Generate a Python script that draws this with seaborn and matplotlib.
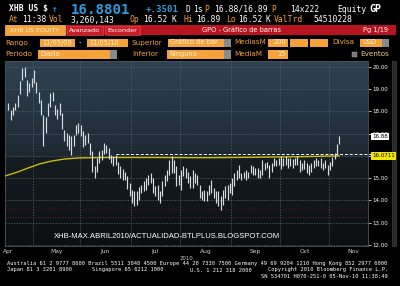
import numpy as np
import pandas as pd
import matplotlib
matplotlib.use("Agg")
import matplotlib.pyplot as plt
import seaborn as sns
from matplotlib.colors import LinearSegmentedColormap
from matplotlib.patches import Rectangle
from matplotlib.transforms import blended_transform_factory

sns.set_theme(style="dark")
plt.rcParams['font.family'] = ['DejaVu Sans']

# ---------------- data ----------------
start_date = "2010-04-16"
end_date = "2010-11-05"
holidays = ["2010-05-31", "2010-07-05", "2010-09-06"]

highs = [18.37, 18.07, 18.22, 18.37, 18.74, 19.35, 19.94, 20.00, 19.42, 19.28,
         19.50, 19.87, 19.34, 18.89, 18.52, 17.85, 17.77, 18.40, 18.82, 18.89,
         18.30, 18.10, 18.37, 17.92, 17.17, 17.03, 16.95, 16.88, 16.95, 17.40,
         17.47, 17.40, 17.10, 16.95, 17.03, 16.58, 16.20, 15.53, 15.90, 16.20,
         16.28, 16.58, 16.50, 16.35, 16.05, 15.98, 16.05, 15.75, 15.53, 15.42,
         15.30, 15.10, 14.78, 14.48, 14.41, 14.41, 14.60, 14.71, 14.86, 15.00,
         15.16, 15.23, 15.00, 14.63, 14.71, 14.41, 14.86, 15.16, 15.38, 15.83,
         15.98, 15.83, 15.53, 15.16, 15.38, 15.53, 15.46, 15.30, 15.08, 15.38,
         15.23, 15.16, 14.70, 14.41, 14.45, 14.41, 14.71, 14.93, 14.56, 14.41,
         14.41, 14.18, 14.48, 14.63, 14.71, 14.78, 15.00, 15.23, 15.38, 15.60,
         15.23, 15.30, 15.38, 15.30, 15.60, 15.53, 15.46, 15.46, 15.38, 15.83,
         15.70, 15.75, 15.60, 15.68, 15.90, 15.83, 15.90, 15.98, 15.90, 15.98,
         15.90, 15.90, 15.88, 15.90, 15.98, 15.83, 15.68, 15.83, 15.68, 15.60,
         15.68, 15.83, 15.90, 15.83, 15.90, 15.68, 15.83, 15.60, 15.75, 15.95,
         16.13, 16.55, 16.89]
lows = [18.07, 17.60, 17.85, 18.07, 18.22, 18.80, 19.42, 19.57, 18.70, 18.89,
        19.12, 19.30, 18.82, 18.37, 17.85, 16.43, 17.03, 17.80, 18.22, 18.48,
        17.85, 17.65, 17.85, 17.20, 16.65, 16.43, 16.28, 16.05, 16.43, 16.95,
        17.03, 16.88, 16.40, 16.50, 16.58, 16.05, 15.30, 15.00, 15.30, 15.68,
        15.83, 16.10, 16.13, 15.85, 15.68, 15.53, 15.60, 15.20, 15.00, 14.90,
        14.93, 14.50, 14.18, 13.89, 13.74, 13.81, 14.04, 14.33, 14.41, 14.48,
        14.71, 14.78, 14.33, 14.18, 14.04, 13.89, 14.18, 14.63, 14.86, 15.16,
        15.23, 15.23, 14.63, 14.71, 14.48, 15.08, 15.00, 14.78, 14.56, 14.56,
        14.78, 14.71, 14.11, 14.04, 13.96, 13.96, 14.26, 14.33, 14.11, 13.89,
        13.74, 13.59, 13.81, 14.11, 14.04, 14.33, 14.26, 14.63, 14.93, 15.00,
        14.93, 15.00, 14.93, 15.00, 15.23, 15.16, 15.16, 15.00, 15.00, 15.16,
        15.38, 15.46, 15.00, 15.30, 15.55, 15.53, 15.60, 15.40, 15.53, 15.60,
        15.46, 15.53, 15.46, 15.60, 15.60, 15.30, 15.38, 15.40, 15.23, 15.16,
        15.30, 15.46, 15.55, 15.53, 15.46, 15.38, 15.46, 15.16, 15.38, 15.55,
        15.85, 16.05, 16.52]

ma_dates = ["2010-04-14", "2010-04-22", "2010-04-29", "2010-05-06", "2010-05-13",
            "2010-05-20", "2010-05-28", "2010-06-15", "2010-07-15", "2010-08-16",
            "2010-09-15", "2010-10-15", "2010-11-05"]
ma_values = [15.08, 15.28, 15.48, 15.66, 15.78, 15.86, 15.91, 15.93, 15.93, 15.92,
             15.94, 15.97, 16.00]

trend_start = "2010-06-22"
trend_level = 16.08

month_labels = ["Apr", "May", "Jun", "Jul", "Aug", "Sep", "Oct", "Nov"]
ytick_values = [12, 13, 14, 15, 16, 17, 18, 19, 20]
hidden_ticks = [16]
last_price = 16.88
ma_label = "16.0711"

# ---------------- figure ----------------
fig = plt.figure(figsize=(4.0, 2.86), dpi=100)
fig.patch.set_facecolor("black")

ov = fig.add_axes([0, 0, 1, 1], zorder=0)
ov.set_xlim(0, 400)
ov.set_ylim(286, 0)
ov.axis("off")

MONO = "DejaVu Sans Mono"
SANS = "DejaVu Sans"
ORANGE = "#f6a030"
BOXC = "#f4a23a"
BOXT = "#fff0d8"
RED = "#b8141f"
BLUE = "#2b9be0"


def T(x, y, s, c="white", size=5.8, weight="normal", family=MONO, ha="left", va="center"):
    ov.text(x, y, s, color=c, fontsize=size, fontweight=weight, family=family,
            ha=ha, va=va)


def box(x0, y0, x1, y1, fc, ec="none", lw=0.5):
    ov.add_patch(Rectangle((x0, y0), x1 - x0, y1 - y0, facecolor=fc,
                           edgecolor=ec, linewidth=lw))


# row 1
T(9, 9, "XHB US $", size=5.8, weight="bold")
T(52, 9, "\u2191", c=BLUE, size=6.5, weight="bold")
T(71, 13.5, "16.8801", c=BLUE, size=10.2, weight="bold", va="baseline")
T(146, 9.5, "+.3501", c=BLUE, size=6.6, weight="bold")
T(186, 9, "D", size=5.8)
T(193, 9, "1s", size=5.8)
T(204, 9, "P", c=ORANGE, size=5.8)
T(214, 9, "16.88/16.89", size=5.8)
T(271, 9, "P", c=ORANGE, size=5.8)
T(290, 9, "14x222", size=5.8)
T(337, 9, "Equity", size=5.8)
T(369, 9.5, "GP", size=7.2, weight="bold")

# row 2
r2 = 20
T(9, r2, "At", c=ORANGE)
T(22, r2, "11:38")
T(49, r2, "Vol", c=ORANGE)
T(71, r2, "3,260,143")
T(129, r2, "Op", c=ORANGE)
T(143, r2, "16.52")
T(172, r2, "K")
T(183, r2, "Hi", c=ORANGE)
T(196, r2, "16.89")
T(226, r2, "Lo", c=ORANGE)
T(238, r2, "16.52")
T(265, r2, "K")
T(274, r2, "ValTrd", c=ORANGE)
T(313, r2, "54510228")

# row 3 (buttons / red bar)
box(5, 25, 65, 35, BOXC, ec="#ffc070")
ov.text(35, 30, "XHB US EQUITY", color=BOXT, fontsize=4.6, family=SANS,
        ha="center", va="center")
box(66, 25, 396, 35, RED)
box(67, 25.5, 103, 34.5, "#c81e28", ec="#e05050", lw=0.4)
box(105, 25.5, 140, 34.5, "#c81e28", ec="#e05050", lw=0.4)
ov.text(85, 30, "Avanzado", color="white", fontsize=4.6, family=SANS, ha="center", va="center")
ov.text(122.5, 30, "Esconder", color="white", fontsize=4.6, family=SANS, ha="center", va="center")
ov.text(202, 30, "GPO - Gr\u00e1fico de barras", color="white", fontsize=4.8, family=SANS,
        ha="left", va="center")
ov.text(363, 30, "Pg 1/19", color="white", fontsize=4.8, family=SANS, ha="left", va="center")

# row 4
r4 = 42.5
ov.text(5, r4, "Rango", color=ORANGE, fontsize=5.2, family=SANS, va="center")
box(40, 38.5, 75, 47, BOXC)
ov.text(42, r4, "11/05/09", color=BOXT, fontsize=4.8, family=SANS, va="center")
ov.text(79, r4, "-", color="white", fontsize=5, family=SANS, va="center")
box(87, 38.5, 128, 47, BOXC)
ov.text(89, r4, "11/05/10", color=BOXT, fontsize=4.8, family=SANS, va="center")
ov.text(132, r4, "Superior", color=ORANGE, fontsize=5.2, family=SANS, va="center")
box(168, 38.5, 224, 47, BOXC)
ov.text(170, r4, "Gr\u00e1fico de bar", color=BOXT, fontsize=4.8, family=SANS, va="center")
box(224, 38.5, 231, 47, "#8a8a8a")
ov.text(234, r4, "MediasM", color=ORANGE, fontsize=5.2, family=SANS, va="center")
box(268, 38.5, 288, 47, BOXC)
ov.text(286, r4, "200", color=BOXT, fontsize=4.8, family=SANS, va="center", ha="right")
box(290, 38.5, 308, 47, BOXC)
box(310, 38.5, 328, 47, BOXC)
ov.text(332, r4, "Divisa", color=ORANGE, fontsize=5.2, family=SANS, va="center")
box(360, 38.5, 382, 47, BOXC)
ov.text(362, r4, "USD", color=BOXT, fontsize=4.8, family=SANS, va="center")
box(382, 38.5, 389, 47, "#8a8a8a")

# row 5
r5 = 54
ov.text(5, r5, "Periodo", color=ORANGE, fontsize=5.2, family=SANS, va="center")
box(38, 50, 110, 58.5, BOXC)
ov.text(40, r5, "Diario", color=BOXT, fontsize=4.8, family=SANS, va="center")
box(110, 50, 117, 58.5, "#8a8a8a")
ov.text(132, r5, "Inferior", color=ORANGE, fontsize=5.2, family=SANS, va="center")
box(167, 50, 224, 58.5, BOXC)
ov.text(169, r5, "Ninguno", color=BOXT, fontsize=4.8, family=SANS, va="center")
box(224, 50, 231, 58.5, "#8a8a8a")
ov.text(234, r5, "MediaM", color=ORANGE, fontsize=5.2, family=SANS, va="center")
box(268, 50, 288, 58.5, BOXC)
ov.text(286, r5, "15", color=BOXT, fontsize=4.8, family=SANS, va="center", ha="right")
box(352, 51.5, 357, 56.5, "#777777", ec="#aaaaaa", lw=0.3)
ov.text(360, r5, "Eventos", color="#f2c890", fontsize=5.2, family=SANS, va="center")

# right scroll bar
box(392, 61, 396, 246, "#2a2a2a", ec="#4a4a4a", lw=0.4)

# footer
FS = 3.9
T(7, 264, "Australia 61 2 9777 8600 Brazil 5511 3048 4500 Europe 44 20 7330 7500 Germany 49 69 9204 1210 Hong Kong 852 2977 6000", size=FS)
T(7, 270, "Japan 81 3 3201 8900", size=FS)
T(92, 270, "Singapore 65 6212 1000", size=FS)
T(190, 270, "U.S. 1 212 318 2000", size=FS)
T(388, 270, "Copyright 2010 Bloomberg Finance L.P.", size=FS, ha="right")
T(388, 276, "SN 534701 H070-251-0 05-Nov-10 11:38:49", size=FS, ha="right")

# ---------------- chart ----------------
pos = [5 / 400, 40 / 286, 363 / 400, 185 / 286]
bg = fig.add_axes(pos, zorder=0.5)
cmap = LinearSegmentedColormap.from_list("bb", [
    (0.0, "#0b0f11"), (0.2, "#10161a"), (0.47, "#151d22"), (0.485, "#1d2831"),
    (0.6, "#222f3a"), (0.8, "#283847"), (1.0, "#2f4253")])
grad = np.linspace(0, 1, 256).reshape(-1, 1)
bg.imshow(grad, aspect="auto", cmap=cmap, origin="lower", extent=[0, 1, 0, 1])
bg.axis("off")
for yf in (0.2, 0.157):
    bg.axhline(yf, color="#7a1212", lw=0.6, ls=(0, (1, 2)))

ax = fig.add_axes(pos, zorder=1)
ax.set_facecolor("none")

dates = pd.bdate_range(start_date, end_date, freq="C", holidays=holidays)
idx = np.arange(len(dates))

ax.vlines(idx, lows, highs, color="#d6dce2", lw=0.85, zorder=3)

ma_idx = [int(np.busday_count(start_date, d, holidays=holidays)) for d in ma_dates]
sns.lineplot(x=ma_idx, y=ma_values, ax=ax, color="#cdbb0a", lw=1.0, zorder=2.8)

t0 = int(np.busday_count(start_date, trend_start, holidays=holidays))
ax.hlines(trend_level, t0, 160, color="white", lw=0.7, ls=(0, (3, 2)), zorder=2.7,
          clip_on=False)

ax.set_xlim(-1.5, 154.3)
ax.set_ylim(11.95, 20.27)

# month boundaries and label centres
months = dates.month
bounds = [int(np.argmax(months == m)) - 0.5 for m in range(5, 12)]
centers = [bounds[0] - 10.5] + [(bounds[i] + bounds[i + 1]) / 2 for i in range(len(bounds) - 1)] \
          + [bounds[-1] + 10.5]
ax.set_xticks(bounds)
ax.set_xticklabels([])
ax.set_xticks(centers, minor=True)
ax.set_xticklabels(month_labels, minor=True)
ax.tick_params(axis="x", which="major", length=2, color="#7a8088", width=0.5)
ax.tick_params(axis="x", which="minor", length=0, pad=2, labelsize=4.3, labelcolor="#d0d0d0")

ax.yaxis.tick_right()
ax.set_yticks(ytick_values)
ax.set_yticklabels(["" if v in hidden_ticks else f"{v:.2f}" for v in ytick_values])
ax.tick_params(axis="y", length=2, width=0.5, color="white", pad=1,
               labelsize=4.0, labelcolor="white")

ax.grid(True, which="major", color="#5a646e", lw=0.5, ls=(0, (2, 2)))
for s in ax.spines.values():
    s.set_color("#4a5560")
    s.set_linewidth(0.6)

ax.text(186, 258, "2010", transform=ov.transData, ha="center", va="center",
        fontsize=3.9, color="#d0d0d0")

bt = blended_transform_factory(ax.transAxes, ax.transData)
ax.text(1.012, last_price, f"{last_price:.2f}", transform=bt, fontsize=4.0, color="black",
        va="center", ha="left", zorder=5,
        bbox=dict(facecolor="white", edgecolor="none", pad=0.8))
ax.text(1.012, ma_values[-1], ma_label, transform=bt, fontsize=4.0, color="black",
        va="center", ha="left", zorder=5,
        bbox=dict(facecolor="#f2e600", edgecolor="none", pad=0.8))

ax.text(54, 237, "XHB-MAX.ABRIL2010/ACTUALIDAD-BTLPLUS.BLOGSPOT.COM",
        transform=ov.transData, color="white", fontsize=5.5,
        family=["Liberation Sans"], ha="left", va="center", zorder=6)

fig.savefig("out.png", dpi=100, facecolor="black")
